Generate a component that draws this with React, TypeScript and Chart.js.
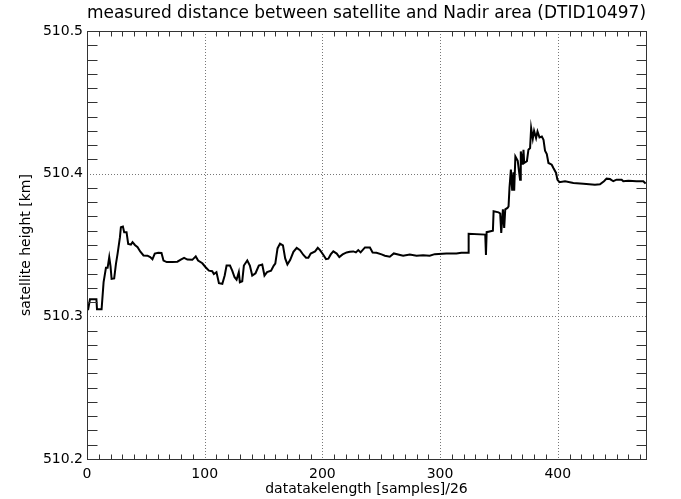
import React, { useEffect, useRef } from "react";
import { Chart, registerables } from "chart.js";

Chart.register(...registerables);

const TITLE = "measured distance between satellite and Nadir area (DTID10497)";
const X_TITLE = "datatakelength [samples]/26";
const Y_TITLE = "satellite height [km]";

const X_MIN = 0;
const X_MAX = 475;
const Y_MIN = 510.2;
const Y_MAX = 510.5;
const X_MAJOR = [0, 100, 200, 300, 400];
const Y_MAJOR = [510.2, 510.3, 510.4, 510.5];

const sampleX = [
  0, 1, 2.5, 8, 8.5, 12.4, 14.1, 16.1, 17.5, 18.9, 20, 20.9, 23.1, 24.6, 26, 28, 28.8, 30.5, 31.6, 33.6,
  35, 37.3, 38.7, 40.7, 43, 45.2, 48, 51.4, 53.7, 55.6, 57.6, 60.5, 63.3, 65, 67.8, 72.6, 76.8, 79.7, 82.5, 85.3,
  89.5, 92.4, 94.4, 98, 100.8, 103.6, 106.4, 107.8, 110, 112.1, 115, 117, 118.6, 121.5, 123.4, 125.4, 127.1, 129, 129.9, 131.9,
  133.3, 136.2, 138.4, 140.4, 143.2, 146, 148.9, 150.8, 153, 156.4, 158.7, 160, 161.9, 164, 166.5, 168.4, 170.3, 172.6, 175.4, 178.2,
  181, 183.9, 186.1, 188.1, 190.1, 193.8, 196.1, 198, 200.9, 203.1, 205.1, 207.1, 209.3, 212.2, 214.4, 217.2, 220.6, 223.4, 226.3, 228.5,
  230.5, 232.5, 236.2, 240.4, 242.7, 246, 250.3, 253.1, 257.3, 260.7, 264.4, 268.6, 274.3, 280, 285.6, 291.2, 295.5, 305.4, 313.9, 318.1,
  324, 324.3, 338.4, 339, 339.6, 344.9, 345.5, 349.7, 351.1, 352, 353.4, 354.5, 355.4, 357.3, 358.2, 359, 360.2, 361.3, 362.4, 363,
  364, 366, 368, 368.6, 370.3, 370.9, 371.5, 373.8, 375.1, 376.5, 377.4, 378.8, 379.9, 381.6, 382.8, 384.5, 386.5, 387.9, 389.2, 390.7,
  392.1, 394.9, 396.3, 398.6, 399.7, 401.4, 406.2, 413.3, 421.8, 431.6, 435.9, 439.3, 441.5, 444.4, 447.2, 450, 454.3, 455.7, 460, 467,
  472.7, 474.7,
];

const heightKm = [
  510.305, 510.305, 510.312, 510.312, 510.305, 510.305, 510.324, 510.334, 510.334, 510.3415, 510.335, 510.3263, 510.3266, 510.3368, 510.344, 510.3555, 510.3625, 510.363, 510.359, 510.359,
  510.3508, 510.3503, 510.352, 510.35, 510.3485, 510.3455, 510.3427, 510.3425, 510.3415, 510.34, 510.344, 510.3446, 510.3444, 510.3391, 510.338, 510.338, 510.3383, 510.3398, 510.341, 510.3398,
  510.3396, 510.342, 510.3391, 510.3372, 510.3344, 510.332, 510.3316, 510.3297, 510.331, 510.3232, 510.3228, 510.3286, 510.3356, 510.3356, 510.332, 510.3274, 510.3257, 510.331, 510.3239, 510.3246,
  510.3356, 510.3391, 510.3356, 510.3286, 510.3302, 510.3356, 510.3363, 510.3286, 510.331, 510.332, 510.3356, 510.337, 510.3476, 510.351, 510.3497, 510.3406, 510.3364, 510.3394, 510.3452, 510.348,
  510.3464, 510.343, 510.3411, 510.3411, 510.344, 510.3455, 510.348, 510.3464, 510.343, 510.3401, 510.3404, 510.3434, 510.3455, 510.344, 510.3416, 510.3434, 510.3448, 510.3452, 510.3455, 510.3448,
  510.3464, 510.3448, 510.3483, 510.3483, 510.3448, 510.3446, 510.3434, 510.3425, 510.3418, 510.3441, 510.3434, 510.3425, 510.3434, 510.3425, 510.3428, 510.3425, 510.3436, 510.344, 510.344, 510.3446,
  510.3446, 510.3578, 510.3573, 510.343, 510.359, 510.36, 510.3736, 510.3729, 510.372, 510.3585, 510.375, 510.362, 510.375, 510.376, 510.377, 510.39, 510.4028, 510.388, 510.401, 510.388,
  510.4121, 510.409, 510.3958, 510.4156, 510.4063, 510.4168, 510.4075, 510.4087, 510.4168, 510.418, 510.4319, 510.4245, 510.43, 510.425, 510.4296, 510.4254, 510.426, 510.4238, 510.4161, 510.4138,
  510.4075, 510.4063, 510.404, 510.4005, 510.3958, 510.394, 510.3947, 510.3935, 510.393, 510.3923, 510.3925, 510.3947, 510.3965, 510.3962, 510.3947, 510.3958, 510.3958, 510.3947, 510.395, 510.3947,
  510.3947, 510.393,
];

const FONT = "'DejaVu Sans', sans-serif";

const framePlugin = {
  id: "idlFrame",
  beforeDatasetsDraw(chart: any) {
    const { ctx, chartArea: a, scales } = chart;
    const xs = scales.x;
    const ys = scales.y;
    ctx.save();
    ctx.strokeStyle = "#777";
    ctx.lineWidth = 1;
    ctx.setLineDash([1, 2]);
    X_MAJOR.forEach((v) => {
      if (v <= X_MIN || v >= X_MAX) return;
      const px = Math.round(xs.getPixelForValue(v)) + 0.5;
      ctx.beginPath();
      ctx.moveTo(px, a.top);
      ctx.lineTo(px, a.bottom);
      ctx.stroke();
    });
    Y_MAJOR.forEach((v) => {
      if (v <= Y_MIN + 1e-9 || v >= Y_MAX - 1e-9) return;
      const py = Math.round(ys.getPixelForValue(v)) + 0.5;
      ctx.beginPath();
      ctx.moveTo(a.left, py);
      ctx.lineTo(a.right, py);
      ctx.stroke();
    });
    ctx.restore();
  },
  afterDraw(chart: any) {
    const { ctx, chartArea: a, scales } = chart;
    const xs = scales.x;
    const ys = scales.y;
    ctx.save();
    ctx.strokeStyle = "#333";
    ctx.lineWidth = 1;
    ctx.setLineDash([]);
    const L = Math.round(a.left) + 0.5;
    const R = Math.round(a.right) + 0.5;
    const T = Math.round(a.top) + 0.5;
    const B = Math.round(a.bottom) + 0.5;
    ctx.strokeRect(L, T, R - L, B - T);
    ctx.beginPath();
    for (let i = 1; X_MIN + i * 10 < X_MAX; i++) {
      const v = X_MIN + i * 10;
      if (v % 100 === 0) continue;
      const px = Math.round(xs.getPixelForValue(v)) + 0.5;
      ctx.moveTo(px, B);
      ctx.lineTo(px, B - 5);
      ctx.moveTo(px, T);
      ctx.lineTo(px, T + 5);
    }
    for (let i = 1; i < 30; i++) {
      if (i % 10 === 0) continue;
      const v = Y_MIN + i * 0.01;
      const py = Math.round(ys.getPixelForValue(v)) + 0.5;
      ctx.moveTo(L, py);
      ctx.lineTo(L + 10, py);
      ctx.moveTo(R, py);
      ctx.lineTo(R - 10, py);
    }
    ctx.stroke();
    ctx.restore();
  },
};

export default function App() {
  const ref = useRef<HTMLCanvasElement | null>(null);
  useEffect(() => {
    if (!ref.current) return;
    const chart = new Chart(ref.current, {
      type: "line",
      data: {
        datasets: [
          {
            data: sampleX.map((x, i) => ({ x, y: heightKm[i] })),
            borderColor: "#000",
            borderWidth: 2,
            pointRadius: 0,
            tension: 0,
            fill: false,
          },
        ],
      },
      options: {
        animation: false,
        responsive: true,
        maintainAspectRatio: false,
        layout: { padding: { left: 0, right: 35, top: 0, bottom: 0 } },
        plugins: {
          legend: { display: false },
          tooltip: { enabled: false },
          title: {
            display: true,
            text: TITLE,
            fullSize: false,
            color: "#000",
            font: { family: FONT, size: 18, weight: "normal", lineHeight: 1.2 },
            padding: { top: 3, bottom: 6.4 },
          },
        },
        scales: {
          x: {
            type: "linear",
            min: X_MIN,
            max: X_MAX,
            afterFit: (s: any) => {
              s.height = 40;
            },
            afterBuildTicks: (s: any) => {
              s.ticks = X_MAJOR.map((v) => ({ value: v }));
            },
            ticks: {
              color: "#000",
              font: { family: FONT, size: 14 },
              padding: 7,
              maxRotation: 0,
              autoSkip: false,
            },
            grid: { display: false, drawTicks: false },
            border: { display: false },
            title: {
              display: true,
              text: X_TITLE,
              color: "#000",
              font: { family: FONT, size: 14 },
              padding: { top: 0, bottom: 1 },
            },
          },
          y: {
            type: "linear",
            min: Y_MIN,
            max: Y_MAX,
            afterFit: (s: any) => {
              s.width = 87;
            },
            afterBuildTicks: (s: any) => {
              s.ticks = Y_MAJOR.map((v) => ({ value: v }));
            },
            ticks: {
              color: "#000",
              font: { family: FONT, size: 14 },
              padding: 4,
              autoSkip: false,
              callback: (v: any) => Number(v).toFixed(1),
            },
            grid: { display: false, drawTicks: false },
            border: { display: false },
            title: {
              display: true,
              text: Y_TITLE,
              color: "#000",
              font: { family: FONT, size: 14 },
              padding: { top: 18, bottom: 0 },
            },
          },
        },
      },
      plugins: [framePlugin],
    });
    return () => chart.destroy();
  }, []);
  return (
    <div style={{ position: "fixed", left: 0, top: 0, width: 681, height: 499, background: "#fff" }}>
      <canvas ref={ref} />
    </div>
  );
}
